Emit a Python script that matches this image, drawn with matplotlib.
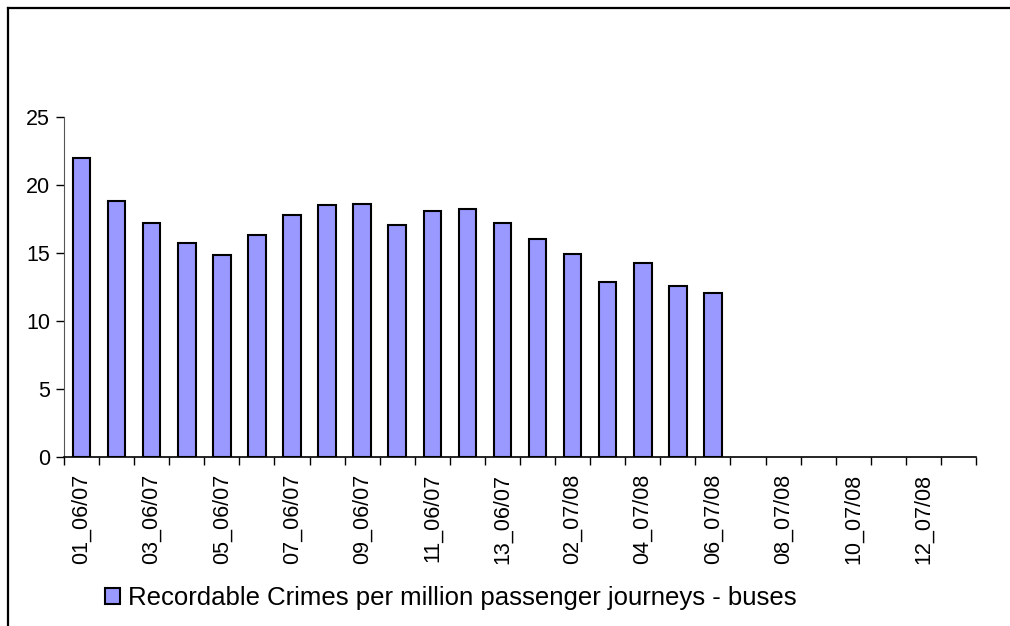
import matplotlib.pyplot as plt
import numpy as np
from matplotlib.patches import Patch
from matplotlib.lines import Line2D

plt.rcParams['font.family'] = ['Liberation Sans', 'DejaVu Sans']

# periods 01..13 for 06/07 and 07/08
periods = ['%02d_06/07' % i for i in range(1, 14)] + ['%02d_07/08' % i for i in range(1, 14)]
crimes = [22.0, 18.8, 17.2, 15.7, 14.85, 16.3, 17.75, 18.5, 18.6, 17.05,
          18.05, 18.2, 17.2, 16.0, 14.95, 12.9, 14.25, 12.6, 12.05]
series_name = 'Recordable Crimes per million passenger journeys - buses'
yticks = [0, 5, 10, 15, 20, 25]

fig = plt.figure(figsize=(10.1, 6.26), dpi=100)
ax = fig.add_axes([64 / 1010, 1 - 457.3 / 626, 912 / 1010, 340.6 / 626])

x = np.arange(len(crimes))
ax.bar(x, crimes, width=0.5, color='#9999FF', edgecolor='black', linewidth=1.5, zorder=3)

ax.set_xlim(-0.5, len(periods) - 0.5)
ax.set_ylim(0, 25)
ax.set_yticks(yticks)
ax.tick_params(axis='y', labelsize=15.5, length=6, width=1, direction='out', pad=4)

# ticks sit between categories, labels on every second category
ax.set_xticks(np.arange(len(periods) + 1) - 0.5)
ax.set_xticklabels([])
ax.set_xticks(np.arange(0, len(periods), 2), minor=True)
ax.set_xticklabels(periods[::2], minor=True, rotation=90, fontsize=15.5)
ax.tick_params(axis='x', which='major', length=6, width=1, direction='out')
ax.tick_params(axis='x', which='minor', length=0, pad=12)

for s in ['top', 'right']:
    ax.spines[s].set_visible(False)
ax.spines['left'].set_color('#555555')
ax.spines['bottom'].set_linewidth(1.2)

handle = Patch(facecolor='#9999FF', edgecolor='black', linewidth=1.5)
fig.legend([handle], [series_name], loc='center left', bbox_to_anchor=(105 / 1010, 1 - 598 / 626),
           frameon=False, fontsize=18.5, handlelength=0.6, handleheight=0.6, handletextpad=0.3,
           borderpad=0, borderaxespad=0)

# chart area border (left and top edges)
fig.add_artist(Line2D([7.5 / 1010, 7.5 / 1010], [0, 1 - 7.5 / 626], color='black', linewidth=1.6,
                      transform=fig.transFigure))
fig.add_artist(Line2D([7.5 / 1010, 1], [1 - 7.5 / 626, 1 - 7.5 / 626], color='black', linewidth=1.6,
                      transform=fig.transFigure))

fig.savefig('out.png', dpi=100)
